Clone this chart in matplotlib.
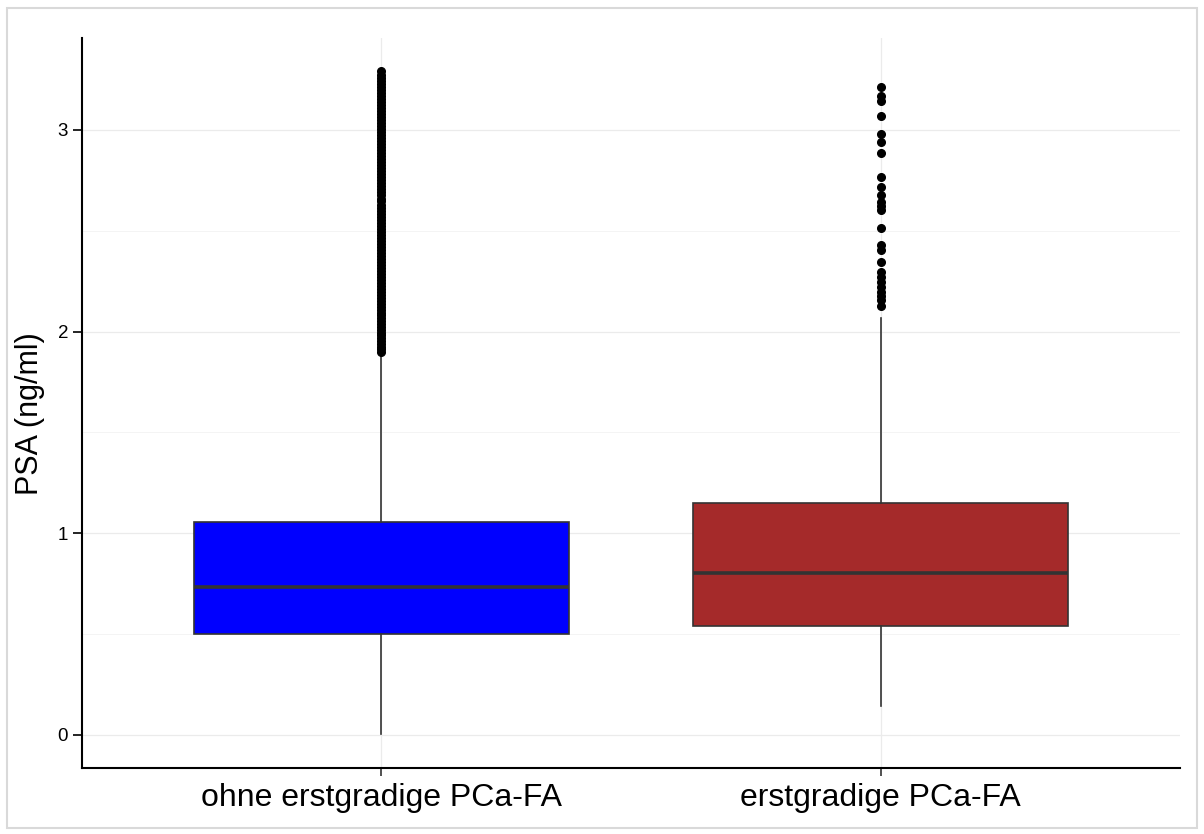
import matplotlib
matplotlib.use("Agg")
import matplotlib.pyplot as plt
from matplotlib.patches import Rectangle

plt.rcParams['font.family'] = ['Liberation Sans', 'DejaVu Sans']

categories = ["ohne erstgradige PCa-FA", "erstgradige PCa-FA"]
colors = ["#0000FF", "#A52A2A"]

whisker_low = [0.005, 0.144]
q1 = [0.501, 0.540]
median = [0.734, 0.803]
q3 = [1.056, 1.150]
whisker_high = [1.889, 2.067]

outliers_1 = [1.900, 1.912, 1.925, 1.940, 1.955, 1.968, 1.982, 1.995, 2.010, 2.024,
              2.038, 2.052, 2.066, 2.080, 2.094, 2.108, 2.122, 2.136, 2.150, 2.165,
              2.180, 2.195, 2.210, 2.225, 2.240, 2.255, 2.270, 2.285, 2.300, 2.315,
              2.330, 2.345, 2.360, 2.375, 2.390, 2.404, 2.420, 2.435, 2.450, 2.465,
              2.480, 2.495, 2.510, 2.525, 2.540, 2.555, 2.570, 2.585, 2.600, 2.615,
              2.628, 2.646, 2.660, 2.675, 2.690, 2.705, 2.720, 2.735, 2.750, 2.765,
              2.780, 2.795, 2.810, 2.825, 2.840, 2.855, 2.870, 2.885, 2.900, 2.915,
              2.930, 2.945, 2.961, 2.976, 2.990, 3.005, 3.020, 3.035, 3.050, 3.065,
              3.080, 3.095, 3.110, 3.125, 3.140, 3.155, 3.170, 3.185, 3.200, 3.215,
              3.230, 3.245, 3.260, 3.275, 3.290]
outliers_2 = [2.127, 2.157, 2.177, 2.196, 2.221, 2.246, 2.271, 2.296, 2.345, 2.405,
              2.429, 2.514, 2.603, 2.623, 2.644, 2.677, 2.718, 2.768, 2.884, 2.942,
              2.980, 3.069, 3.143, 3.170, 3.213]
outliers = [outliers_1, outliers_2]

y_ticks = [0, 1, 2, 3]
y_minor = [0.5, 1.5, 2.5]

fig = plt.figure(figsize=(12.04, 8.34), dpi=100)
fig.patches.append(Rectangle((7/1204, 6/834), 1190/1204, 820/834, transform=fig.transFigure,
                             fill=False, edgecolor="#D9D9D9", linewidth=1.5))
ax = fig.add_axes([82/1204, 1 - 768/834, 1098/1204, 730/834])

stats = []
for i in range(len(categories)):
    stats.append(dict(med=median[i], q1=q1[i], q3=q3[i], whislo=whisker_low[i],
                      whishi=whisker_high[i], fliers=outliers[i], label=categories[i]))

bp = ax.bxp(stats, positions=[1, 2], widths=0.75, patch_artist=True, showcaps=False,
            boxprops=dict(edgecolor="#333333", linewidth=1.2),
            medianprops=dict(color="#333333", linewidth=2.6),
            whiskerprops=dict(color="#333333", linewidth=1.2),
            flierprops=dict(marker='o', markerfacecolor='black', markeredgecolor='black',
                            markersize=5.5, linestyle='none'))
for patch, c in zip(bp['boxes'], colors):
    patch.set_facecolor(c)

ax.set_xlim(0.4, 2.6)
ax.set_ylim(-0.164, 3.456)
ax.set_yticks(y_ticks)
ax.set_yticks(y_minor, minor=True)
ax.set_xticks([1, 2])
ax.set_xticklabels(categories, fontsize=23)
ax.tick_params(axis='y', which='major', labelsize=13.5, length=6.5, width=1.2, pad=3.5, color='black')
ax.tick_params(axis='y', which='minor', length=0)
ax.tick_params(axis='x', length=6, width=1.2, pad=5, color='#333333')

ax.grid(True, which='major', color='#EBEBEB', linewidth=0.9)
ax.grid(True, which='minor', axis='y', color='#F4F4F4', linewidth=0.7)
ax.set_axisbelow(True)

for s in ['top', 'right']:
    ax.spines[s].set_visible(False)
ax.spines['left'].set_linewidth(1.5)
ax.spines['bottom'].set_linewidth(1.5)

ax.set_ylabel("PSA (ng/ml)", fontsize=22)
ax.yaxis.set_label_coords(-0.034, 0.485)

fig.savefig("out.png", dpi=100)
